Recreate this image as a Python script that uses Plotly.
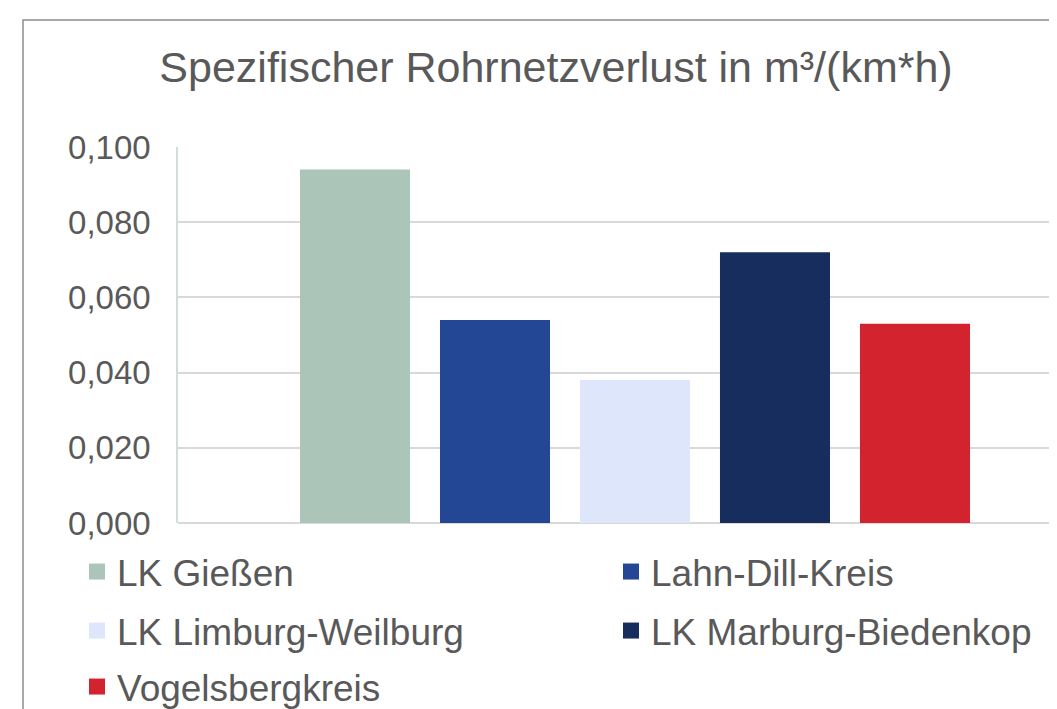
import plotly.graph_objects as go

title_text = "Spezifischer Rohrnetzverlust in m³/(km*h)"
series_names = ["LK Gießen", "Lahn-Dill-Kreis", "LK Limburg-Weilburg",
                "LK Marburg-Biedenkop", "Vogelsbergkreis"]
values = [0.094, 0.054, 0.038, 0.072, 0.053]
colors = ["#abc6b9", "#234794", "#dde6fb", "#172d5e", "#d3232e"]
tick_vals = [0.0, 0.02, 0.04, 0.06, 0.08, 0.10]

# legend placement in page pixels (text start x, row centre y)
legend_pos = [(118, 572), (652, 572), (118, 631), (652, 631), (118, 687)]

OFF = 8  # page body margin of the html page
W, H = 1057 - OFF, 709 - OFF
PL, PT, PB = 178, 147, 523  # plot area in page pixels (left, top, bottom)
L, T, B, R = PL - OFF, PT - OFF, 709 - PB, 0
pw, ph = W - L - R, H - T - B

FONT = "Liberation Sans, Arial, sans-serif"
GREY = "#595959"


def px_x(p):  # page pixel -> paper x
    return (p - OFF - L) / pw


def px_y(p):  # page pixel -> paper y
    return (PB - p) / ph


fig = go.Figure()
legend_ids = ["legend"] + ["legend%d" % (i + 1) for i in range(1, len(series_names))]
for name, v, c, lg in zip(series_names, values, colors, legend_ids):
    fig.add_trace(go.Bar(x=[0], y=[v], name=name, legendgroup=name, showlegend=False,
                         marker=dict(color=c, line=dict(width=0))))
    # legend key (larger square, like the original legend)
    fig.add_trace(go.Scatter(x=[None], y=[None], name=name, legendgroup=name,
                             mode="markers", legend=lg, hoverinfo="skip",
                             marker=dict(symbol="square", size=18, color=c,
                                         line=dict(width=0))))

legends = {}
for lg, (tx, ty) in zip(legend_ids, legend_pos):
    legends[lg] = dict(orientation="h", font=dict(family=FONT, size=37, color=GREY),
                       itemwidth=30, itemsizing="trace", bgcolor="rgba(0,0,0,0)",
                       xanchor="left", yanchor="middle", itemclick=False,
                       x=px_x(tx - 41), y=px_y(ty))

fig.update_layout(
    width=W, height=H,
    margin=dict(l=L, r=R, t=T, b=B, autoexpand=False),
    paper_bgcolor="white", plot_bgcolor="white",
    separators=",.",
    barmode="group", bargap=0.2, bargroupgap=0.214,
    title=dict(text=title_text, x=(556 - OFF) / W, xref="container",
               y=1 - (67 - OFF) / H, yref="container", xanchor="center", yanchor="middle",
               font=dict(family=FONT, size=43, color=GREY)),
    xaxis=dict(range=[-0.5223, 0.4823], showticklabels=False, showgrid=False,
               zeroline=False, showline=False, ticks=""),
    yaxis=dict(range=[0, 0.1], tickvals=tick_vals, tickformat=".3f",
               showgrid=True, gridcolor="#d9d9d9", gridwidth=1.5,
               zeroline=True, zerolinecolor="#d9d9d9", zerolinewidth=1.5,
               showline=True, linecolor="#cfe0d6", linewidth=1.5,
               ticks="", ticklabelstandoff=19,
               tickfont=dict(family=FONT, size=33, color=GREY)),
    showlegend=True,
    **legends,
)

# outer frame of the chart object
fig.add_shape(type="rect", xref="paper", yref="paper",
              x0=px_x(23), x1=px_x(1100), y0=px_y(20), y1=px_y(760),
              line=dict(color="#8c8c8c", width=1.5), fillcolor="rgba(0,0,0,0)", layer="below")

fig.write_html("out.html")
